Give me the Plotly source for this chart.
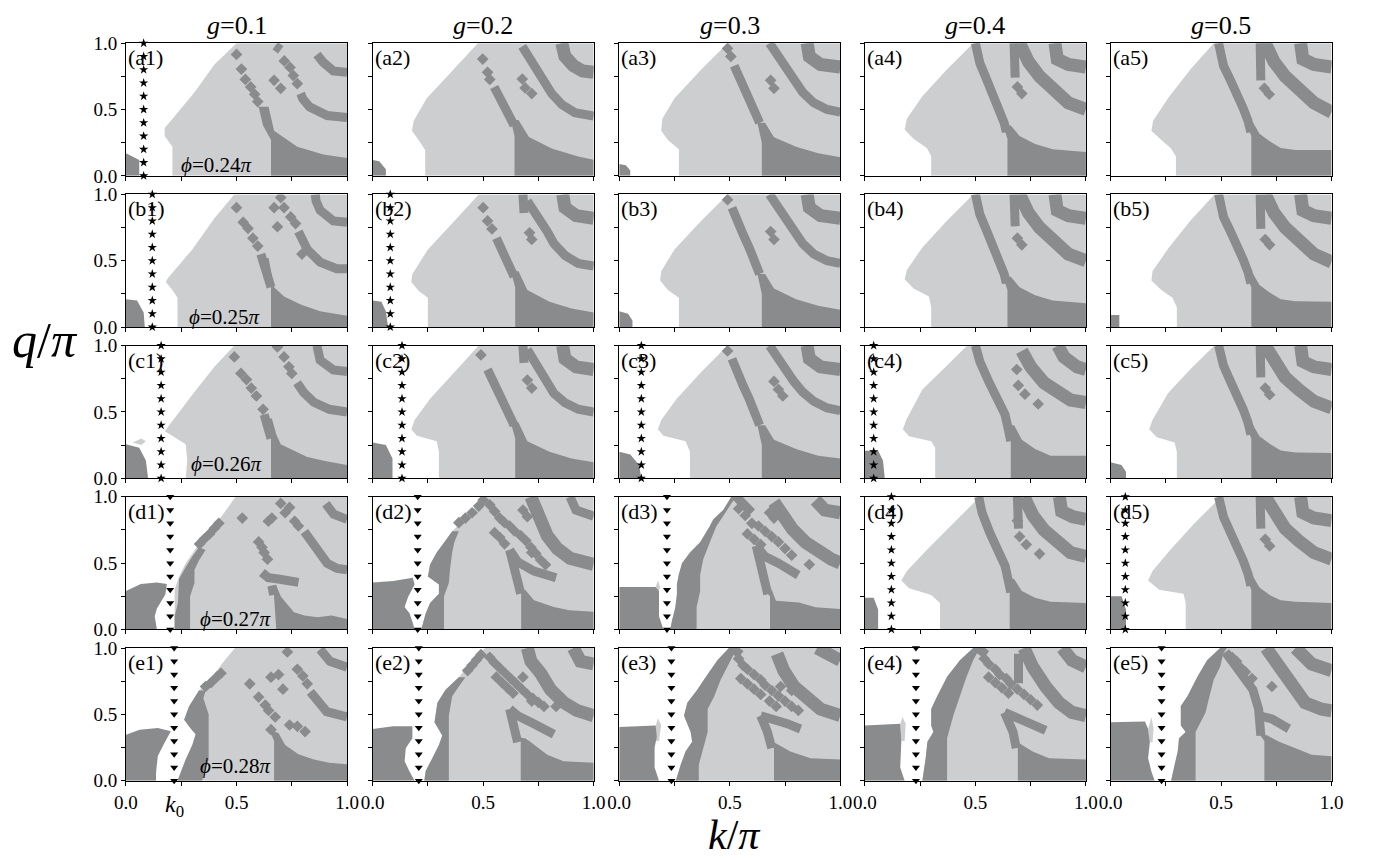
import plotly.graph_objects as go

# ---------------------------------------------------------------- data
G_VALUES = ["0.1", "0.2", "0.3", "0.4", "0.5"]
ROWS = ["a", "b", "c", "d", "e"]
PHI = {"a": "0.24", "b": "0.25", "c": "0.26", "d": "0.27", "e": "0.28"}

# k0 marker columns (k/pi) and their symbol
K0 = {"a1": 0.08, "b1": 0.119, "b2": 0.08, "c1": 0.159, "c2": 0.133, "c3": 0.10,
      "c4": 0.04, "d1": 0.20, "d2": 0.204, "d3": 0.216, "d4": 0.12, "d5": 0.067,
      "e1": 0.218, "e2": 0.209, "e3": 0.236, "e4": 0.231, "e5": 0.231}
K0_SYMBOL = {"a1": "star", "b1": "star", "b2": "star", "c1": "star", "c2": "star",
             "c3": "star", "c4": "star", "d4": "star", "d5": "star",
             "d1": "triangle-down", "d2": "triangle-down", "d3": "triangle-down",
             "e1": "triangle-down", "e2": "triangle-down", "e3": "triangle-down",
             "e4": "triangle-down", "e5": "triangle-down"}
Q_SAMPLES = [0.0, 0.1, 0.2, 0.3, 0.4, 0.5, 0.6, 0.7, 0.8, 0.9, 1.0]

# left boundary of the shaded region, top (q=1) to bottom (q=0), as (k, q)
EDGE = {
    "a1": [(0.50, 1), (0.40, 0.84), (0.31, 0.63), (0.22, 0.45), (0.175, 0.36), (0.175, 0.30), (0.21, 0.22), (0.21, 0)],
    "a2": [(0.476, 1), (0.365, 0.80), (0.245, 0.585), (0.186, 0.415), (0.178, 0.34), (0.208, 0.27), (0.238, 0.195), (0.238, 0)],
    "a3": [(0.49, 1), (0.37, 0.80), (0.25, 0.585), (0.195, 0.43), (0.19, 0.34), (0.22, 0.27), (0.27, 0.2), (0.27, 0)],
    "a4": [(0.49, 1), (0.37, 0.80), (0.26, 0.6), (0.19, 0.43), (0.18, 0.35), (0.22, 0.28), (0.28, 0.21), (0.30, 0.15), (0.30, 0)],
    "a5": [(0.467, 1), (0.363, 0.805), (0.26, 0.585), (0.193, 0.415), (0.185, 0.34), (0.23, 0.27), (0.274, 0.207), (0.296, 0.146), (0.296, 0)],
    "b1": [(0.49, 1), (0.40, 0.82), (0.30, 0.585), (0.19, 0.37), (0.18, 0.34), (0.21, 0.28), (0.233, 0.22), (0.233, 0)],
    "b2": [(0.48, 1), (0.37, 0.80), (0.25, 0.585), (0.18, 0.40), (0.175, 0.34), (0.21, 0.27), (0.25, 0.22), (0.25, 0)],
    "b3": [(0.49, 1), (0.37, 0.80), (0.25, 0.585), (0.19, 0.42), (0.185, 0.35), (0.22, 0.28), (0.27, 0.22), (0.27, 0)],
    "b4": [(0.49, 1), (0.37, 0.80), (0.26, 0.6), (0.19, 0.43), (0.18, 0.36), (0.22, 0.29), (0.29, 0.23), (0.30, 0.15), (0.30, 0)],
    "b5": [(0.47, 1), (0.36, 0.80), (0.26, 0.59), (0.19, 0.42), (0.185, 0.35), (0.23, 0.28), (0.28, 0.22), (0.30, 0.15), (0.30, 0)],
    "c1": [(0.49, 1), (0.40, 0.84), (0.30, 0.63), (0.20, 0.41), (0.175, 0.355), (0.20, 0.33), (0.27, 0.256), (0.277, 0.134), (0.27, 0)],
    "c2": [(0.48, 1), (0.37, 0.80), (0.26, 0.6), (0.19, 0.44), (0.175, 0.37), (0.20, 0.32), (0.29, 0.28), (0.30, 0.2), (0.30, 0)],
    "c3": [(0.49, 1), (0.37, 0.80), (0.26, 0.6), (0.19, 0.44), (0.175, 0.37), (0.20, 0.32), (0.30, 0.28), (0.32, 0.2), (0.32, 0)],
    "c4": [(0.463, 1), (0.366, 0.84), (0.26, 0.67), (0.187, 0.44), (0.172, 0.37), (0.20, 0.317), (0.30, 0.28), (0.318, 0.23), (0.318, 0)],
    "c5": [(0.47, 1), (0.36, 0.82), (0.26, 0.64), (0.19, 0.44), (0.175, 0.37), (0.21, 0.31), (0.29, 0.27), (0.30, 0.2), (0.30, 0)],
    "d1": [(0.496, 1), (0.44, 0.87), (0.38, 0.74), (0.32, 0.62), (0.27, 0.50), (0.24, 0.40), (0.22, 0.3), (0.22, 0)],
    "d2": [(0.50, 1), (0.48, 0.95), (0.45, 0.9), (0.42, 0.84), (0.39, 0.79), (0.36, 0.74), (0.33, 0.67), (0.29, 0.58), (0.26, 0.49), (0.25, 0.40), (0.30, 0.34), (0.30, 0.27), (0.26, 0.2), (0.24, 0.12), (0.22, 0)],
    "d3": [(0.507, 1), (0.47, 0.9), (0.425, 0.83), (0.41, 0.78), (0.366, 0.657), (0.321, 0.583), (0.284, 0.5), (0.269, 0.41), (0.261, 0.34), (0.261, 0.265), (0.254, 0.167), (0.239, 0.07), (0.231, 0)],
    "d4": [(0.52, 1), (0.40, 0.80), (0.28, 0.6), (0.19, 0.44), (0.165, 0.37), (0.20, 0.31), (0.30, 0.26), (0.34, 0.2), (0.34, 0)],
    "d5": [(0.50, 1), (0.38, 0.80), (0.27, 0.6), (0.19, 0.44), (0.17, 0.37), (0.22, 0.30), (0.33, 0.27), (0.34, 0.2), (0.34, 0)],
    "e1": [(0.493, 1), (0.433, 0.88), (0.39, 0.78), (0.33, 0.68), (0.285, 0.56), (0.263, 0.46), (0.29, 0.40), (0.315, 0.35), (0.30, 0.27), (0.27, 0.16), (0.233, 0)],
    "e2": [(0.508, 1), (0.45, 0.9), (0.39, 0.78), (0.33, 0.686), (0.293, 0.588), (0.28, 0.44), (0.315, 0.34), (0.30, 0.27), (0.27, 0.17), (0.24, 0.074), (0.234, 0)],
    "e3": [(0.496, 1), (0.444, 0.907), (0.383, 0.76), (0.353, 0.686), (0.308, 0.588), (0.293, 0.49), (0.323, 0.368), (0.33, 0.294), (0.30, 0.22), (0.278, 0.12), (0.256, 0)],
    "e4": [(0.49, 1), (0.43, 0.907), (0.372, 0.784), (0.327, 0.637), (0.30, 0.54), (0.30, 0.417), (0.31, 0.368), (0.283, 0.294), (0.275, 0.17), (0.26, 0)],
    "e5": [(0.496, 1), (0.437, 0.907), (0.393, 0.784), (0.348, 0.637), (0.318, 0.564), (0.318, 0.417), (0.34, 0.368), (0.31, 0.32), (0.304, 0.22), (0.29, 0.12), (0.274, 0)],
}

# dark patch at small k, small q
BLOB = {
    "a1": [(0, 0), (0, 0.17), (0.06, 0.12), (0.06, 0)],
    "a2": [(0, 0), (0, 0.12), (0.03, 0.11), (0.06, 0.05), (0.06, 0)],
    "a3": [(0, 0), (0, 0.09), (0.03, 0.08), (0.05, 0.04), (0.05, 0)],
    "b1": [(0, 0), (0, 0.21), (0.05, 0.2), (0.08, 0.11), (0.085, 0)],
    "b2": [(0, 0), (0, 0.2), (0.04, 0.19), (0.06, 0.12), (0.07, 0)],
    "b3": [(0, 0), (0, 0.12), (0.04, 0.1), (0.06, 0.05), (0.06, 0)],
    "b5": [(0, 0), (0, 0.09), (0.04, 0.09), (0.04, 0)],
    "c1": [(0, 0), (0, 0.256), (0.06, 0.23), (0.09, 0.134), (0.10, 0)],
    "c2": [(0, 0), (0, 0.27), (0.06, 0.25), (0.09, 0.15), (0.09, 0)],
    "c3": [(0, 0), (0, 0.2), (0.05, 0.18), (0.09, 0.1), (0.10, 0)],
    "c4": [(0, 0), (0, 0.207), (0.06, 0.207), (0.082, 0.134), (0.09, 0)],
    "c5": [(0, 0), (0, 0.12), (0.05, 0.1), (0.07, 0.05), (0.07, 0)],
    "d1": [(0, 0), (0, 0.29), (0.067, 0.342), (0.14, 0.355), (0.185, 0.342), (0.178, 0.263), (0.14, 0.158), (0.13, 0.1), (0.14, 0)],
    "d2": [(0, 0), (0, 0.354), (0.093, 0.366), (0.182, 0.39), (0.19, 0.34), (0.16, 0.244), (0.145, 0.17), (0.167, 0.122), (0.182, 0.049), (0.19, 0)],
    "d3": [(0, 0), (0, 0.32), (0.165, 0.32), (0.18, 0.29), (0.18, 0.1), (0.20, 0)],
    "d4": [(0, 0), (0, 0.24), (0.04, 0.24), (0.06, 0.15), (0.06, 0)],
    "d5": [(0, 0), (0, 0.25), (0.05, 0.25), (0.07, 0.15), (0.07, 0)],
    "e1": [(0, 0), (0, 0.347), (0.062, 0.385), (0.144, 0.397), (0.203, 0.372), (0.174, 0.285), (0.144, 0.186), (0.136, 0.062), (0.136, 0)],
    "e2": [(0, 0), (0, 0.39), (0.093, 0.41), (0.18, 0.41), (0.18, 0.32), (0.15, 0.245), (0.145, 0.147), (0.167, 0.07), (0.19, 0)],
    "e3": [(0, 0), (0, 0.404), (0.165, 0.417), (0.17, 0.33), (0.16, 0.25), (0.16, 0.1), (0.18, 0)],
    "e4": [(0, 0), (0, 0.417), (0.16, 0.43), (0.165, 0.3), (0.16, 0.1), (0.18, 0)],
    "e5": [(0, 0), (0, 0.44), (0.156, 0.446), (0.17, 0.39), (0.178, 0.29), (0.17, 0.17), (0.185, 0.07), (0.20, 0)],
}

# small shaded islands inside the white region
PATCH = {
    "c1": [(0.03, 0.27), (0.07, 0.30), (0.09, 0.28), (0.07, 0.25)],
    "d3": [(0.165, 0.32), (0.175, 0.37), (0.185, 0.32), (0.18, 0.29)],
    "e3": [(0.165, 0.417), (0.175, 0.47), (0.19, 0.42), (0.18, 0.30), (0.165, 0.30)],
    "e4": [(0.16, 0.43), (0.17, 0.48), (0.185, 0.43), (0.18, 0.30), (0.165, 0.30)],
    "e5": [(0.17, 0.39), (0.185, 0.48), (0.195, 0.39), (0.19, 0.29), (0.178, 0.29)],
}

# dark strip running along the shaded boundary
LBAND = {
    "d1": [(0.22, 0), (0.22, 0.1), (0.235, 0.2), (0.24, 0.38), (0.27, 0.47), (0.30, 0.55), (0.33, 0.62), (0.36, 0.60), (0.33, 0.52), (0.31, 0.45), (0.31, 0.35), (0.29, 0.25), (0.29, 0)],
    "d2": [(0.36, 0.74), (0.33, 0.67), (0.29, 0.58), (0.26, 0.49), (0.25, 0.40), (0.30, 0.34), (0.30, 0.27), (0.26, 0.2), (0.24, 0.12), (0.22, 0),
           (0.323, 0), (0.323, 0.25), (0.345, 0.35), (0.35, 0.45), (0.36, 0.58), (0.37, 0.66), (0.39, 0.74)],
    "d3": [(0.507, 1), (0.47, 0.9), (0.425, 0.83), (0.41, 0.78), (0.366, 0.657), (0.321, 0.583), (0.284, 0.5), (0.269, 0.41), (0.261, 0.34), (0.261, 0.265), (0.254, 0.167), (0.239, 0.07), (0.231, 0),
           (0.35, 0), (0.35, 0.167), (0.366, 0.29), (0.366, 0.41), (0.38, 0.53), (0.41, 0.657), (0.44, 0.78), (0.47, 0.853), (0.507, 0.95), (0.53, 1)],
    "e1": [(0.33, 0.68), (0.285, 0.56), (0.263, 0.46), (0.29, 0.40), (0.315, 0.35), (0.30, 0.27), (0.27, 0.16), (0.233, 0),
           (0.344, 0), (0.374, 0.16), (0.374, 0.5), (0.35, 0.62), (0.36, 0.68)],
    "e2": [(0.39, 0.78), (0.33, 0.686), (0.293, 0.588), (0.28, 0.44), (0.315, 0.34), (0.30, 0.27), (0.27, 0.17), (0.24, 0.074), (0.234, 0),
           (0.345, 0), (0.345, 0.245), (0.345, 0.49), (0.36, 0.637), (0.39, 0.71), (0.42, 0.78)],
    "e3": [(0.496, 1), (0.444, 0.907), (0.383, 0.76), (0.353, 0.686), (0.308, 0.588), (0.293, 0.49), (0.323, 0.368), (0.33, 0.294), (0.30, 0.22), (0.278, 0.12), (0.256, 0),
           (0.36, 0), (0.36, 0.12), (0.40, 0.368), (0.40, 0.54), (0.43, 0.637), (0.459, 0.76), (0.489, 0.858), (0.519, 0.956), (0.534, 1)],
    "e4": [(0.49, 1), (0.43, 0.907), (0.372, 0.784), (0.327, 0.637), (0.30, 0.54), (0.30, 0.417), (0.31, 0.368), (0.283, 0.294), (0.275, 0.17), (0.26, 0),
           (0.372, 0), (0.372, 0.32), (0.40, 0.49), (0.43, 0.637), (0.46, 0.784), (0.49, 0.907), (0.52, 1)],
    "e5": [(0.496, 1), (0.437, 0.907), (0.393, 0.784), (0.348, 0.637), (0.318, 0.564), (0.318, 0.417), (0.34, 0.368), (0.31, 0.32), (0.304, 0.22), (0.29, 0.12), (0.274, 0),
           (0.385, 0), (0.385, 0.368), (0.43, 0.515), (0.444, 0.613), (0.467, 0.76), (0.496, 0.858), (0.51, 0.956), (0.526, 1)],
}

# dark region at large k, small q
SOLID = {
    "a1": [(0.60, 0.52), (0.645, 0.52), (0.67, 0.34), (0.775, 0.22), (0.893, 0.16), (1, 0.134), (1, 0), (0.656, 0), (0.656, 0.27), (0.62, 0.38)],
    "a2": [(0.625, 0.42), (0.66, 0.42), (0.707, 0.293), (0.81, 0.207), (0.93, 0.146), (1, 0.122), (1, 0), (0.642, 0), (0.642, 0.3)],
    "a3": [(0.625, 0.40), (0.66, 0.40), (0.70, 0.29), (0.80, 0.22), (0.90, 0.17), (1, 0.14), (1, 0), (0.645, 0), (0.645, 0.25)],
    "a4": [(0.625, 0.38), (0.66, 0.38), (0.70, 0.30), (0.77, 0.24), (0.85, 0.20), (1, 0.18), (1, 0), (0.645, 0), (0.645, 0.28)],
    "a5": [(0.61, 0.40), (0.645, 0.40), (0.674, 0.317), (0.72, 0.26), (0.77, 0.21), (0.837, 0.195), (1, 0.195), (1, 0), (0.637, 0), (0.637, 0.3)],
    "b1": [(0.61, 0.52), (0.645, 0.52), (0.67, 0.30), (0.715, 0.23), (0.79, 0.17), (0.878, 0.12), (1, 0.085), (1, 0), (0.656, 0), (0.656, 0.3), (0.635, 0.4)],
    "b2": [(0.625, 0.42), (0.66, 0.42), (0.70, 0.28), (0.80, 0.19), (0.90, 0.14), (1, 0.11), (1, 0), (0.645, 0), (0.645, 0.3)],
    "b3": [(0.625, 0.40), (0.66, 0.40), (0.70, 0.29), (0.80, 0.21), (0.90, 0.16), (1, 0.13), (1, 0), (0.645, 0), (0.645, 0.25)],
    "b4": [(0.625, 0.38), (0.66, 0.38), (0.70, 0.30), (0.77, 0.24), (0.85, 0.20), (1, 0.18), (1, 0), (0.645, 0), (0.645, 0.28)],
    "b5": [(0.61, 0.40), (0.645, 0.40), (0.674, 0.317), (0.72, 0.26), (0.77, 0.21), (0.837, 0.195), (1, 0.19), (1, 0), (0.637, 0), (0.637, 0.3)],
    "c1": [(0.625, 0.45), (0.66, 0.45), (0.68, 0.33), (0.70, 0.256), (0.77, 0.2), (0.82, 0.16), (0.90, 0.13), (1, 0.10), (1, 0), (0.656, 0), (0.656, 0.3)],
    "c2": [(0.625, 0.42), (0.66, 0.42), (0.70, 0.28), (0.80, 0.20), (0.90, 0.15), (1, 0.12), (1, 0), (0.645, 0), (0.645, 0.3)],
    "c3": [(0.625, 0.40), (0.66, 0.40), (0.70, 0.29), (0.80, 0.22), (0.90, 0.17), (1, 0.15), (1, 0), (0.645, 0), (0.645, 0.25)],
    "c4": [(0.635, 0.40), (0.675, 0.40), (0.71, 0.29), (0.77, 0.22), (0.84, 0.17), (1, 0.17), (1, 0), (0.66, 0), (0.66, 0.28)],
    "c5": [(0.61, 0.40), (0.645, 0.40), (0.674, 0.317), (0.72, 0.26), (0.77, 0.21), (0.837, 0.195), (1, 0.19), (1, 0), (0.637, 0), (0.637, 0.3)],
    "d1": [(0.655, 0.33), (0.68, 0.33), (0.70, 0.25), (0.72, 0.21), (0.76, 0.13), (0.807, 0.105), (0.867, 0.092), (0.93, 0.105), (1, 0.08), (1, 0), (0.68, 0), (0.668, 0.29)],
    "d2": [(0.655, 0.30), (0.69, 0.30), (0.73, 0.22), (0.82, 0.17), (0.89, 0.146), (1, 0.134), (1, 0), (0.672, 0), (0.672, 0.27)],
    "d3": [(0.655, 0.30), (0.69, 0.30), (0.709, 0.216), (0.813, 0.204), (0.888, 0.167), (1, 0.154), (1, 0), (0.682, 0), (0.682, 0.25)],
    "d4": [(0.635, 0.38), (0.675, 0.38), (0.71, 0.29), (0.77, 0.24), (0.84, 0.21), (1, 0.20), (1, 0), (0.655, 0), (0.655, 0.28)],
    "d5": [(0.61, 0.40), (0.645, 0.40), (0.674, 0.317), (0.72, 0.26), (0.77, 0.22), (0.837, 0.21), (1, 0.20), (1, 0), (0.637, 0), (0.637, 0.3)],
    "e1": [(0.65, 0.38), (0.69, 0.36), (0.72, 0.27), (0.78, 0.20), (0.85, 0.16), (0.92, 0.136), (1, 0.124), (1, 0), (0.67, 0), (0.67, 0.3)],
    "e2": [(0.64, 0.33), (0.69, 0.32), (0.716, 0.29), (0.79, 0.196), (0.864, 0.147), (1, 0.135), (1, 0), (0.67, 0), (0.67, 0.3)],
    "e3": [(0.675, 0.30), (0.71, 0.28), (0.774, 0.22), (0.865, 0.17), (1, 0.16), (1, 0), (0.70, 0), (0.70, 0.245)],
    "e4": [(0.67, 0.30), (0.70, 0.28), (0.759, 0.22), (0.833, 0.17), (1, 0.16), (1, 0), (0.692, 0), (0.692, 0.245)],
    "e5": [(0.67, 0.36), (0.71, 0.34), (0.763, 0.294), (0.837, 0.245), (0.91, 0.196), (1, 0.184), (1, 0), (0.696, 0), (0.696, 0.3)],
}

# narrow dark ridges (polylines)
BANDS = {
    "a1": [[(0.79, 0.62), (0.80, 0.58), (0.83, 0.52), (0.87, 0.48), (0.91, 0.455), (1, 0.44)],
           [(0.864, 0.915), (0.893, 0.854), (0.938, 0.79), (1, 0.78)], [(0.675, 0.98), (0.70, 0.95)]],
    "a2": [[(0.55, 0.67), (0.588, 0.56), (0.617, 0.46), (0.64, 0.38)],
           [(0.677, 0.976), (0.707, 0.90), (0.73, 0.84), (0.75, 0.78), (0.78, 0.71), (0.81, 0.62), (0.856, 0.537), (0.915, 0.476), (1, 0.45)]],
    "a3": [[(0.52, 0.83), (0.55, 0.72), (0.585, 0.6), (0.61, 0.5), (0.635, 0.4)],
           [(0.68, 1.0), (0.71, 0.92), (0.75, 0.82), (0.79, 0.72), (0.83, 0.63), (0.88, 0.55), (0.94, 0.5), (1, 0.48)]],
    "a4": [[(0.50, 1), (0.52, 0.85), (0.55, 0.73), (0.58, 0.62), (0.61, 0.5), (0.63, 0.4), (0.64, 0.33)], [(0.675, 1), (0.68, 0.74)]],
    "a5": [[(0.489, 1), (0.511, 0.83), (0.54, 0.73), (0.57, 0.634), (0.60, 0.51), (0.622, 0.415), (0.635, 0.33)], [(0.677, 1.0), (0.68, 0.72)]],
    "b1": [[(0.61, 0.55), (0.62, 0.49), (0.64, 0.39), (0.656, 0.3)],
           [(0.78, 0.72), (0.80, 0.63), (0.82, 0.585), (0.878, 0.49), (0.953, 0.44), (1, 0.44)],
           [(0.856, 1.0), (0.86, 0.95), (0.878, 0.88), (0.938, 0.80), (1, 0.79)]],
    "b2": [[(0.56, 0.67), (0.59, 0.57), (0.62, 0.46), (0.64, 0.38)],
           [(0.70, 0.95), (0.73, 0.88), (0.76, 0.8), (0.79, 0.72), (0.82, 0.63), (0.87, 0.54), (0.93, 0.48), (1, 0.46)], [(0.68, 1), (0.685, 0.86)]],
    "b3": [[(0.51, 0.9), (0.53, 0.8), (0.56, 0.7), (0.59, 0.59), (0.615, 0.49), (0.635, 0.4)],
           [(0.68, 1.0), (0.71, 0.92), (0.75, 0.82), (0.79, 0.72), (0.83, 0.63), (0.88, 0.55), (0.94, 0.5), (1, 0.48)]],
    "b4": [[(0.50, 1), (0.52, 0.85), (0.55, 0.73), (0.58, 0.62), (0.61, 0.5), (0.63, 0.4), (0.64, 0.33)], [(0.675, 1), (0.68, 0.76)]],
    "b5": [[(0.489, 1), (0.511, 0.83), (0.54, 0.73), (0.57, 0.634), (0.60, 0.51), (0.622, 0.415), (0.635, 0.33)], [(0.677, 1.0), (0.68, 0.74)]],
    "c1": [[(0.625, 0.48), (0.64, 0.38), (0.656, 0.3)],
           [(0.774, 0.72), (0.804, 0.646), (0.85, 0.573), (0.92, 0.52), (1, 0.50)],
           [(0.864, 1), (0.878, 0.89), (0.938, 0.817), (1, 0.805)]],
    "c2": [[(0.52, 0.82), (0.55, 0.72), (0.585, 0.6), (0.615, 0.49), (0.64, 0.4)],
           [(0.70, 0.97), (0.73, 0.88), (0.76, 0.8), (0.79, 0.72), (0.82, 0.64), (0.87, 0.57), (0.93, 0.52), (1, 0.50)], [(0.68, 1), (0.685, 0.87)]],
    "c3": [[(0.51, 0.9), (0.53, 0.8), (0.56, 0.7), (0.59, 0.59), (0.615, 0.49), (0.635, 0.4)],
           [(0.68, 1.0), (0.71, 0.92), (0.75, 0.82), (0.79, 0.73), (0.83, 0.65), (0.88, 0.58), (0.94, 0.53), (1, 0.51)]],
    "c4": [[(0.50, 1), (0.52, 0.88), (0.56, 0.73), (0.60, 0.60), (0.634, 0.48), (0.65, 0.36), (0.66, 0.28)]],
    "c5": [[(0.489, 1), (0.511, 0.85), (0.54, 0.74), (0.57, 0.64), (0.60, 0.52), (0.622, 0.42), (0.635, 0.33)], [(0.677, 1.0), (0.68, 0.76)]],
    "d1": [[(0.615, 0.43), (0.644, 0.39), (0.69, 0.38), (0.733, 0.37), (0.78, 0.355)],
           [(0.807, 0.737), (0.837, 0.66), (0.867, 0.58), (0.91, 0.5), (0.955, 0.46), (1, 0.45)],
           [(0.904, 0.947), (0.94, 0.868), (1, 0.83)], [(0.66, 0.33), (0.668, 0.26)]],
    "d2": [[(0.62, 0.6), (0.645, 0.41), (0.67, 0.27)],
           [(0.62, 0.6), (0.656, 0.51), (0.73, 0.44), (0.80, 0.40), (0.83, 0.39)],
           [(0.893, 1), (0.92, 0.9), (1, 0.854)]],
    "d3": [[(0.62, 0.63), (0.634, 0.51), (0.657, 0.39), (0.672, 0.265)],
           [(0.62, 0.63), (0.66, 0.55), (0.72, 0.50), (0.78, 0.44), (0.81, 0.41)],
           [(0.53, 1), (0.56, 0.95), (0.60, 0.88)]],
    "d4": [[(0.515, 1), (0.53, 0.88), (0.565, 0.73), (0.60, 0.60), (0.634, 0.48), (0.65, 0.36), (0.66, 0.28)], [(0.69, 1.0), (0.695, 0.76)]],
    "d5": [[(0.489, 1), (0.511, 0.85), (0.54, 0.74), (0.57, 0.64), (0.60, 0.52), (0.622, 0.42), (0.635, 0.33)], [(0.677, 1.0), (0.68, 0.76)]],
    "e1": [[(0.834, 0.67), (0.863, 0.60), (0.908, 0.52), (1, 0.48)],
           [(0.878, 0.99), (0.923, 0.90), (1, 0.855)]],
    "e2": [[(0.62, 0.54), (0.64, 0.39), (0.656, 0.29)],
           [(0.62, 0.54), (0.656, 0.49), (0.716, 0.44), (0.775, 0.39), (0.82, 0.35)]],
    "e3": [[(0.64, 0.49), (0.67, 0.37), (0.69, 0.245)],
           [(0.64, 0.49), (0.70, 0.466), (0.76, 0.43), (0.82, 0.39)],
           [(0.51, 1), (0.55, 0.95)]],
    "e4": [[(0.632, 0.515), (0.67, 0.368), (0.685, 0.245)],
           [(0.632, 0.515), (0.70, 0.47), (0.744, 0.44), (0.818, 0.38)],
           [(0.695, 0.956), (0.695, 0.735)], [(0.51, 1), (0.55, 0.95)]],
    "e5": [[(0.52, 0.97), (0.585, 0.81), (0.644, 0.686), (0.67, 0.54), (0.67, 0.416), (0.68, 0.34)],
           [(0.67, 0.49), (0.73, 0.466), (0.78, 0.417), (0.807, 0.392)]],
}

# broad dark ridges (polylines)
WIDE = {
    "a2": [[(0.856, 1.0), (0.87, 0.9), (0.908, 0.83), (0.95, 0.79), (1, 0.78)]],
    "a3": [[(0.85, 1), (0.86, 0.9), (0.91, 0.84), (1, 0.82)]],
    "a4": [[(0.70, 1), (0.74, 0.86), (0.79, 0.75), (0.85, 0.65), (0.92, 0.55), (1, 0.50)], [(0.86, 1), (0.87, 0.88), (0.92, 0.84), (1, 0.82)]],
    "a5": [[(0.70, 1.0), (0.74, 0.86), (0.79, 0.75), (0.85, 0.65), (0.92, 0.55), (1, 0.48)], [(0.86, 1.0), (0.87, 0.88), (0.92, 0.84), (1, 0.82)]],
    "b2": [[(0.86, 1), (0.87, 0.9), (0.92, 0.84), (1, 0.82)]],
    "b3": [[(0.85, 1), (0.86, 0.9), (0.91, 0.84), (1, 0.82)]],
    "b4": [[(0.70, 1), (0.74, 0.86), (0.79, 0.75), (0.85, 0.65), (0.92, 0.55), (1, 0.50)], [(0.86, 1), (0.87, 0.88), (0.92, 0.84), (1, 0.82)]],
    "b5": [[(0.70, 1.0), (0.74, 0.86), (0.79, 0.75), (0.85, 0.65), (0.92, 0.55), (1, 0.49)], [(0.86, 1.0), (0.87, 0.88), (0.92, 0.84), (1, 0.82)]],
    "c2": [[(0.86, 1), (0.87, 0.9), (0.92, 0.84), (1, 0.82)]],
    "c3": [[(0.85, 1), (0.86, 0.9), (0.91, 0.84), (1, 0.82)]],
    "c4": [[(0.71, 0.96), (0.75, 0.84), (0.81, 0.72), (0.87, 0.65), (0.93, 0.59), (1, 0.57)], [(0.873, 1), (0.90, 0.915), (0.96, 0.84), (1, 0.82)]],
    "c5": [[(0.70, 1.0), (0.74, 0.87), (0.79, 0.76), (0.85, 0.67), (0.92, 0.58), (1, 0.53)], [(0.86, 1.0), (0.87, 0.88), (0.92, 0.84), (1, 0.82)]],
    "d2": [[(0.716, 1), (0.746, 0.88), (0.79, 0.707), (0.835, 0.61), (0.893, 0.537), (1, 0.49)]],
    "d3": [[(0.70, 0.96), (0.73, 0.88), (0.784, 0.755), (0.843, 0.657), (0.90, 0.583), (0.96, 0.53), (1, 0.50)], [(0.888, 0.975), (0.93, 0.90), (1, 0.88)]],
    "d4": [[(0.72, 1), (0.76, 0.86), (0.81, 0.75), (0.87, 0.66), (0.93, 0.58), (1, 0.55)], [(0.88, 1), (0.89, 0.89), (0.94, 0.85), (1, 0.83)]],
    "d5": [[(0.70, 1.0), (0.74, 0.87), (0.79, 0.76), (0.85, 0.67), (0.92, 0.58), (1, 0.53)], [(0.86, 1.0), (0.87, 0.88), (0.92, 0.84), (1, 0.82)]],
    "e2": [[(0.70, 1), (0.716, 0.9), (0.76, 0.81), (0.805, 0.686), (0.864, 0.59), (0.923, 0.53), (1, 0.49)], [(0.908, 1), (0.94, 0.9), (1, 0.88)]],
    "e3": [[(0.714, 0.956), (0.744, 0.83), (0.79, 0.71), (0.85, 0.61), (0.91, 0.54), (1, 0.49)], [(0.895, 1), (0.955, 0.956), (1, 0.907)]],
    "e4": [[(0.72, 1), (0.759, 0.858), (0.818, 0.71), (0.878, 0.588), (0.937, 0.515), (1, 0.49)], [(0.893, 1), (0.937, 0.907), (1, 0.858)]],
    "e5": [[(0.704, 1), (0.763, 0.858), (0.822, 0.71), (0.88, 0.588), (0.956, 0.539), (1, 0.527)], [(0.837, 1), (0.91, 0.88), (1, 0.83)]],
}

# isolated dark spots
DOTS = {
    "a1": [(0.50, 0.915), (0.522, 0.805), (0.54, 0.727), (0.564, 0.67), (0.582, 0.615), (0.596, 0.56), (0.716, 0.866), (0.742, 0.817),
           (0.757, 0.756), (0.775, 0.695), (0.67, 0.72), (0.70, 0.66)],
    "a2": [(0.498, 0.88), (0.52, 0.78), (0.53, 0.727), (0.677, 0.73), (0.69, 0.663), (0.72, 0.62)],
    "a3": [(0.49, 0.96), (0.505, 0.9), (0.685, 0.72), (0.70, 0.66)],
    "a4": [(0.69, 0.67), (0.71, 0.62)],
    "a5": [(0.696, 0.66), (0.718, 0.615)],
    "b1": [(0.50, 0.90), (0.53, 0.79), (0.552, 0.744), (0.574, 0.67), (0.596, 0.61), (0.67, 0.90), (0.70, 0.976), (0.685, 0.756),
           (0.715, 0.90), (0.745, 0.83), (0.767, 0.78), (0.796, 0.55)],
    "b2": [(0.50, 0.9), (0.52, 0.8), (0.54, 0.74), (0.71, 0.71), (0.72, 0.66)],
    "b3": [(0.49, 0.96), (0.685, 0.72), (0.70, 0.66)],
    "b4": [(0.69, 0.67), (0.71, 0.62)],
    "b5": [(0.70, 0.66), (0.72, 0.62)],
    "c1": [(0.49, 0.915), (0.52, 0.79), (0.545, 0.744), (0.567, 0.68), (0.59, 0.62), (0.62, 0.52), (0.685, 0.99), (0.715, 0.915),
           (0.737, 0.84), (0.75, 0.79)],
    "c2": [(0.49, 0.93), (0.70, 0.74), (0.72, 0.68)],
    "c3": [(0.49, 0.96), (0.70, 0.73), (0.72, 0.67), (0.74, 0.62)],
    "c4": [(0.687, 0.82), (0.694, 0.70), (0.724, 0.634), (0.784, 0.56)],
    "c5": [(0.70, 0.68), (0.72, 0.63)],
    "d1": [(0.333, 0.645), (0.355, 0.684), (0.378, 0.72), (0.40, 0.763), (0.42, 0.80), (0.526, 0.84), (0.60, 0.66), (0.615, 0.62),
           (0.625, 0.58), (0.64, 0.53), (0.644, 0.816), (0.66, 0.84), (0.70, 0.95), (0.74, 0.92), (0.72, 0.88), (0.763, 0.816), (0.78, 0.78)],
    "d2": [(0.39, 0.805), (0.42, 0.84), (0.45, 0.88), (0.48, 0.93), (0.50, 0.976), (0.53, 0.94), (0.552, 0.89), (0.575, 0.84),
           (0.597, 0.805), (0.62, 0.78), (0.641, 0.744), (0.67, 0.707), (0.693, 0.67), (0.716, 0.62), (0.738, 0.573), (0.76, 0.524),
           (0.782, 0.488), (0.552, 0.73), (0.575, 0.695), (0.597, 0.646), (0.68, 0.90), (0.70, 0.85), (0.72, 0.58)],
    "d3": [(0.54, 0.91), (0.57, 0.86), (0.60, 0.80), (0.63, 0.78), (0.66, 0.74), (0.69, 0.70), (0.72, 0.66), (0.75, 0.61),
           (0.78, 0.56), (0.58, 0.72), (0.61, 0.68), (0.64, 0.64), (0.70, 0.84), (0.68, 0.88), (0.86, 0.49)],
    "d4": [(0.69, 0.82), (0.70, 0.70), (0.73, 0.64), (0.79, 0.57)],
    "d5": [(0.70, 0.68), (0.72, 0.63)],
    "e1": [(0.36, 0.71), (0.385, 0.74), (0.41, 0.78), (0.43, 0.81), (0.656, 0.385), (0.60, 0.63), (0.63, 0.57), (0.645, 0.53),
           (0.675, 0.48), (0.656, 0.78), (0.69, 0.80), (0.56, 0.73), (0.71, 0.69), (0.73, 0.97), (0.775, 0.84), (0.80, 0.79),
           (0.82, 0.73), (0.74, 0.42), (0.775, 0.41), (0.81, 0.37)],
    "e2": [(0.43, 0.83), (0.45, 0.87), (0.47, 0.91), (0.49, 0.95), (0.53, 0.93), (0.55, 0.89), (0.575, 0.85), (0.60, 0.81),
           (0.625, 0.77), (0.65, 0.73), (0.675, 0.69), (0.70, 0.65), (0.725, 0.62), (0.75, 0.59), (0.775, 0.56), (0.56, 0.78),
           (0.585, 0.74), (0.61, 0.70), (0.635, 0.66), (0.68, 0.78), (0.72, 0.60), (0.83, 0.56)],
    "e3": [(0.54, 0.92), (0.56, 0.87), (0.58, 0.84), (0.61, 0.80), (0.64, 0.76), (0.66, 0.72), (0.69, 0.68), (0.72, 0.64),
           (0.75, 0.60), (0.78, 0.56), (0.81, 0.53), (0.55, 0.77), (0.58, 0.73), (0.61, 0.69), (0.64, 0.65), (0.68, 0.60),
           (0.71, 0.56), (0.73, 0.71), (0.78, 0.68)],
    "e4": [(0.54, 0.92), (0.56, 0.88), (0.59, 0.84), (0.61, 0.80), (0.64, 0.77), (0.66, 0.73), (0.69, 0.69), (0.72, 0.65),
           (0.75, 0.61), (0.78, 0.57), (0.56, 0.78), (0.59, 0.74), (0.62, 0.70), (0.65, 0.66)],
    "e5": [(0.55, 0.93), (0.57, 0.90), (0.59, 0.85), (0.61, 0.82), (0.64, 0.77), (0.73, 0.71)],
}

# ---------------------------------------------------------------- style / layout
LIGHT = "#cdcecf"
DARK = "#8a8b8d"
SERIF = "Liberation Serif, Times New Roman, serif"
FIG_W, FIG_H = 1376, 860
COL_LEFT = [116, 367, 618, 868, 1118]
ROW_TOP = [34, 189, 344, 499, 654]
PANEL_W, PANEL_H = 225, 136
PHI_POS = [(0.24, 0.085), (0.275, 0.075), (0.285, 0.11), (0.325, 0.08), (0.325, 0.11)]


def flat(polys):
    xs, ys = [], []
    for p in polys:
        for k, q in p:
            xs.append(k)
            ys.append(q)
        xs.append(None)
        ys.append(None)
    return xs, ys


fig = go.Figure()
layout = dict(width=FIG_W, height=FIG_H, margin=dict(l=0, r=0, t=0, b=0),
              paper_bgcolor="white", plot_bgcolor="white", showlegend=False,
              font=dict(family=SERIF, color="black"))
annotations = []

for r, row in enumerate(ROWS):
    for c in range(5):
        pid = f"{row}{c + 1}"
        n = r * 5 + c + 1
        xname = "x" if n == 1 else f"x{n}"
        yname = "y" if n == 1 else f"y{n}"
        left, top = COL_LEFT[c], ROW_TOP[r]
        xdom = [left / FIG_W, (left + PANEL_W) / FIG_W]
        ydom = [1 - (top + PANEL_H) / FIG_H, 1 - top / FIG_H]
        axis_common = dict(range=[0, 1], showgrid=False, zeroline=False, ticks="outside",
                           ticklen=4, tickwidth=1, tickcolor="black", showline=True,
                           linecolor="black", linewidth=1, mirror=True,
                           tickmode="array", tickvals=[0, 0.5, 1.0],
                           ticktext=["0.0", "0.5", "1.0"],
                           minor=dict(tickmode="array", tickvals=[0.25, 0.75], ticks="outside",
                                      ticklen=4, tickwidth=1, tickcolor="black", showgrid=False),
                           tickfont=dict(family=SERIF, size=19, color="black"),
                           fixedrange=True)
        layout["xaxis" if n == 1 else f"xaxis{n}"] = dict(
            axis_common, domain=xdom, anchor=yname, showticklabels=(r == 4))
        layout["yaxis" if n == 1 else f"yaxis{n}"] = dict(
            axis_common, domain=ydom, anchor=xname, showticklabels=(c == 0))

        # shaded region right of the boundary
        edge = EDGE[pid]
        lx, ly = flat([edge + [(1, 0), (1, 1)]] + ([PATCH[pid]] if pid in PATCH else []))
        fig.add_trace(go.Scatter(x=lx, y=ly, fill="toself", fillcolor=LIGHT, mode="none",
                                 xaxis=xname, yaxis=yname, hoverinfo="skip"))
        # dark filled regions
        dark = [d[pid] for d in (BLOB, LBAND, SOLID) if pid in d]
        if dark:
            dx, dy = flat(dark)
            fig.add_trace(go.Scatter(x=dx, y=dy, fill="toself", fillcolor=DARK, mode="none",
                                     xaxis=xname, yaxis=yname, hoverinfo="skip"))
        if pid in BANDS:
            bx, by = flat(BANDS[pid])
            fig.add_trace(go.Scatter(x=bx, y=by, mode="lines", line=dict(color=DARK, width=9),
                                     xaxis=xname, yaxis=yname, hoverinfo="skip"))
        if pid in WIDE:
            wx, wy = flat(WIDE[pid])
            fig.add_trace(go.Scatter(x=wx, y=wy, mode="lines", line=dict(color=DARK, width=13),
                                     xaxis=xname, yaxis=yname, hoverinfo="skip"))
        if pid in DOTS:
            fig.add_trace(go.Scatter(x=[p[0] for p in DOTS[pid]], y=[p[1] for p in DOTS[pid]],
                                     mode="markers",
                                     marker=dict(symbol="diamond", size=9, color=DARK),
                                     xaxis=xname, yaxis=yname, hoverinfo="skip"))

        # panel tag
        annotations.append(dict(text=f"({pid})", xref=f"{xname} domain", yref=f"{yname} domain",
                                x=0.0, y=1.0, xanchor="left", yanchor="top", showarrow=False,
                                font=dict(family=SERIF, size=22, color="black")))

        if pid in K0:
            sym = K0_SYMBOL[pid]
            fig.add_trace(go.Scatter(x=[K0[pid]] * len(Q_SAMPLES), y=Q_SAMPLES, mode="markers",
                                     marker=dict(symbol=sym, size=7, color="black"),
                                     cliponaxis=False, xaxis=xname, yaxis=yname, hoverinfo="skip"))

        if c == 0:
            px, py = PHI_POS[r]
            annotations.append(dict(text=f"<i>\u03d5</i>={PHI[row]}<i>\u03c0</i>",
                                    xref=xname, yref=yname, x=px, y=py,
                                    xanchor="left", yanchor="middle", showarrow=False,
                                    font=dict(family=SERIF, size=21, color="black")))

# column titles
for c, g in enumerate(G_VALUES):
    annotations.append(dict(text=f"<i>g</i>={g}", xref="paper", yref="paper",
                            x=(COL_LEFT[c] + PANEL_W / 2) / FIG_W, y=1 - 16 / FIG_H,
                            xanchor="center", yanchor="middle", showarrow=False,
                            font=dict(family=SERIF, size=26, color="black")))

# axis titles
annotations.append(dict(text="<i>q</i>/<i>\u03c0</i>", xref="paper", yref="paper",
                        x=34 / FIG_W, y=1 - 338 / FIG_H, xanchor="center", yanchor="middle",
                        showarrow=False, font=dict(family=SERIF, size=50, color="black")))
annotations.append(dict(text="<i>k</i>/<i>\u03c0</i>", xref="paper", yref="paper",
                        x=735 / FIG_W, y=1 - 846 / FIG_H, xanchor="center", yanchor="middle",
                        showarrow=False, font=dict(family=SERIF, size=42, color="black")))
# k0 tick label under the first bottom panel
annotations.append(dict(text="<i>k</i><sub>0</sub>", xref="x21", yref="paper",
                        x=K0["e1"], y=1 - 816 / FIG_H, xanchor="center", yanchor="middle",
                        showarrow=False, font=dict(family=SERIF, size=24, color="black")))

layout["annotations"] = annotations
fig.update_layout(**layout)
fig.write_html("out.html")
